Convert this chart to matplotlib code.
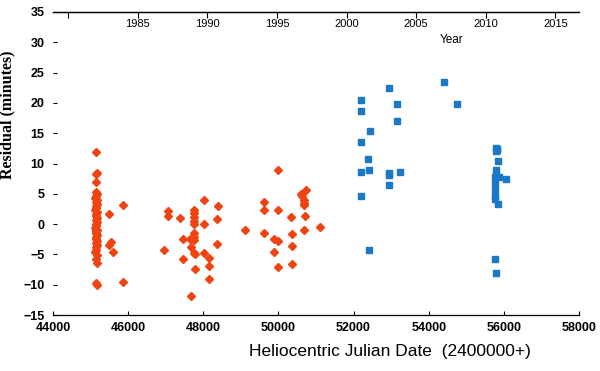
import matplotlib
matplotlib.use("Agg")
import matplotlib.pyplot as plt

# Older timings (red diamonds): heliocentric JD - 2400000, residual in minutes
old_hjd = [
    45150, 45135, 45160, 45150,
    45140, 45170, 45150, 45130, 45165, 45145, 45175, 45140, 45155, 45130,
    45170, 45150, 45135, 45160, 45145, 45175, 45140, 45155, 45130, 45165,
    45150, 45140, 45170, 45150, 45135, 45160, 45145, 45175, 45140, 45155,
    45130, 45165, 45150, 45160,
    45150, 45165,
    45491, 45540, 45500, 45605, 45871, 45855,
    47069, 47069, 46955, 47381, 47453, 47453, 47647, 47666, 47666,
    47761, 47761, 47761, 47761, 47761, 47761, 47761, 47761,
    47740, 47785, 47788,
    48028, 48028, 48028, 48161, 48161, 48161, 48384, 48366, 48366,
    49111, 49625, 49625, 49625, 49982, 49982, 49875, 49982, 49875, 49982,
    50328, 50370, 50370, 50370, 50602, 50620, 50727, 50682, 50682, 50682,
    50700, 50682, 51108,
]
old_res = [
    11.9, 8.2, 8.5, 6.9,
    5.3, 5.0, 4.6, 4.3, 4.0, 3.6, 3.3, 3.0, 2.7, 2.3, 2.0, 1.7, 1.3, 1.0,
    0.7, 0.3, 0.0, -0.3, -0.6, -0.9, -1.2, -1.5, -1.8, -2.1, -2.4, -2.8,
    -3.1, -3.4, -3.8, -4.2, -4.6, -5.1, -5.7, -6.4,
    -9.7, -10.0,
    1.65, -2.9, -3.5, -4.6, 3.1, -9.6,
    2.1, 1.3, -4.2, 1.0, -2.5, -5.8, -2.5, -3.8, -11.9,
    2.4, 1.8, 1.1, 0.5, 0.0, -1.5, -2.1, -2.6,
    -4.8, -5.0, -7.4,
    4.0, 0.0, -4.8, -5.6, -6.9, -9.1, 3.0, 0.9, -3.3,
    -0.9, 3.6, 2.4, -1.4, 8.9, 2.3, -2.4, -2.8, -4.6, -7.1,
    1.2, -1.65, -3.6, -6.65, 4.9, 4.6, 5.6, 4.0, 3.4, 3.1,
    1.4, -0.9, -0.5,
]

# Recent timings (blue squares)
new_hjd = [
    52944, 52207, 52207, 53149, 53149, 52438, 52207, 52393, 52207, 52420,
    52944, 52944, 53245, 52944, 52207, 52420, 54416, 54763,
    55800, 55820, 55790, 55830, 55854, 55793, 55766, 55870, 56059, 55766,
    55766, 55766, 55766, 55854, 55766, 55793,
]
new_res = [
    22.4, 20.5, 18.6, 19.8, 17.0, 15.3, 13.6, 10.8, 8.6, 8.9,
    8.4, 8.1, 8.6, 6.4, 4.7, -4.3, 23.5, 19.9,
    12.6, 12.3, 12.0, 12.4, 10.4, 8.9, 7.8, 7.8, 7.4, 6.7,
    5.6, 4.6, 4.2, 3.3, -5.7, -8.1,
]

year_ticks = [1980, 1985, 1990, 1995, 2000, 2005, 2010, 2015]
year_labels = ['', '1985', '1990', '1995', '2000', '2005', '2010', '2015']


# top scale as drawn in the original figure
def hjd_to_year(h):
    return 1980 + (h - 44407) / 370.4


def year_to_hjd(y):
    return 44407 + (y - 1980) * 370.4


red = '#ef4412'
blue = '#1b78c6'

fig = plt.figure(figsize=(6, 3.71), dpi=100)
ax = fig.add_axes([53 / 600, 1 - 315 / 371, 526 / 600, 303 / 371])

ax.plot(old_hjd, old_res, linestyle='none', marker='D', ms=3.9,
        color=red, mec=red)
ax.plot(new_hjd, new_res, linestyle='none', marker='s', ms=4.2,
        color=blue, mec=blue)

ax.set_xlim(44000, 58000)
ax.set_ylim(-15, 35)
ax.set_xticks(range(44000, 58001, 2000))
ax.set_yticks(range(-15, 36, 5))
for s in ['left', 'right']:
    ax.spines[s].set_visible(False)
ax.spines['bottom'].set_linewidth(0.9)
ax.spines['top'].set_linewidth(0.9)
ax.tick_params(axis='both', direction='in', length=3, width=0.8,
               labelsize=9, top=False)
ax.tick_params(axis='x', pad=5)
ax.tick_params(axis='y', pad=6)
for lab in ax.get_xticklabels() + ax.get_yticklabels():
    lab.set_family('Liberation Sans')
    lab.set_fontweight('bold')

ax.set_xlabel('Heliocentric Julian Date  (2400000+)', fontsize=12.5,
              family='Liberation Sans')
ax.xaxis.set_label_coords(0.64, -0.095)
ax.set_ylabel('Residual (minutes)', fontsize=11.5, fontweight='bold',
              family='Liberation Serif')
ax.yaxis.set_label_coords(-0.072, 0.66)

sec = ax.secondary_xaxis('top', functions=(hjd_to_year, year_to_hjd))
sec.set_xticks(year_ticks)
sec.set_xticklabels(year_labels)
sec.tick_params(direction='in', length=4, width=0.8, pad=-12, labelsize=8)
sec.spines['top'].set_linewidth(0.9)
for lab in sec.get_xticklabels():
    lab.set_family('Liberation Sans')
ax.text(0.758, 0.908, 'Year', transform=ax.transAxes, fontsize=8.5,
        family='Liberation Sans', ha='center', va='center')

fig.savefig('out.png', dpi=100)
